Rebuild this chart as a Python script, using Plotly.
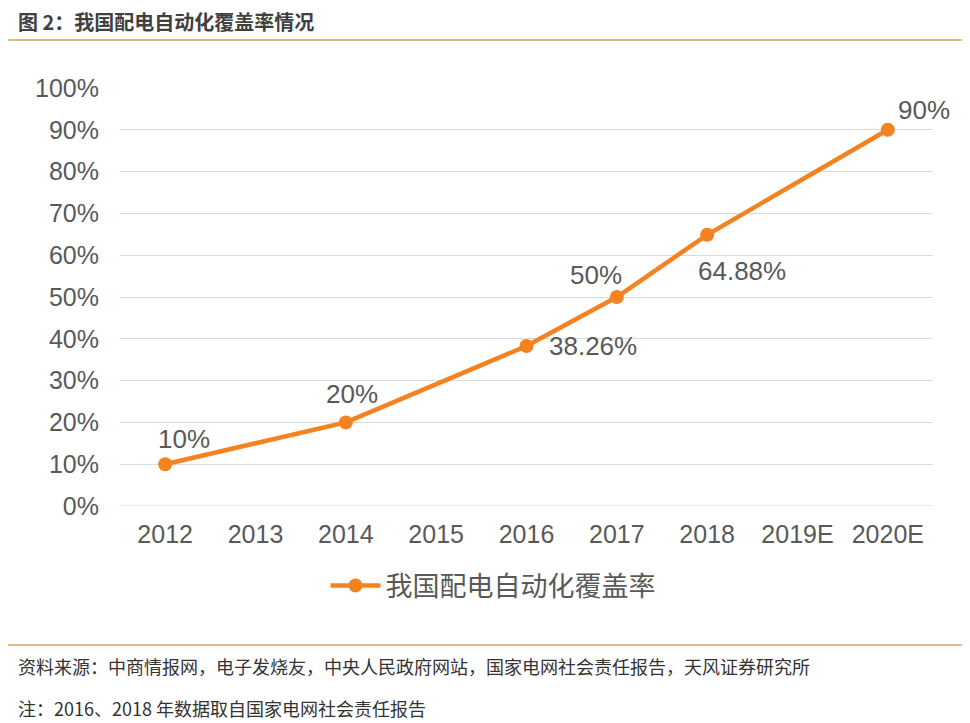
import plotly.graph_objects as go

years = ["2012", "2013", "2014", "2015", "2016", "2017", "2018", "2019E", "2020E"]
coverage = [0.10, None, 0.20, None, 0.3826, 0.50, 0.6488, None, 0.90]
labels = ["10%", None, "20%", None, "38.26%", "50%", "64.88%", None, "90%"]
y_ticks = [0, 0.1, 0.2, 0.3, 0.4, 0.5, 0.6, 0.7, 0.8, 0.9, 1.0]
y_tick_text = ["0%", "10%", "20%", "30%", "40%", "50%", "60%", "70%", "80%", "90%", "100%"]

series_name = "我国配电自动化覆盖率"
title_text = "图 2：我国配电自动化覆盖率情况"
source_text = "资料来源：中商情报网，电子发烧友，中央人民政府网站，国家电网社会责任报告，天风证券研究所"
note_text = "注：2016、2018 年数据取自国家电网社会责任报告"

ORANGE = "#F58220"
GRAY = "#595959"
NUMFONT = "Liberation Sans, Arial, sans-serif"
CJK = "Noto Sans CJK SC, sans-serif"

# page has an 8px body margin; figure coordinates = screen coordinates - 8
OFF = 8
W, H = 970 - OFF, 723 - OFF
L, R, T, B = 120 - OFF, 37, 88 - OFF, 217
PW, PH = W - L - R, H - T - B


def px(xs):
    return (xs - OFF - L) / PW


def py(ys):
    return (H - B - (ys - OFF)) / PH


# label offsets in pixels (style only)
offsets = {0: (19, 25), 2: (6, 28), 4: (66, 0), 5: (-21, 22), 6: (35, -36), 8: (36, 20)}

fig = go.Figure()
fig.add_trace(go.Scatter(
    x=years, y=coverage, mode="lines+markers", name=series_name,
    connectgaps=True,
    line=dict(color=ORANGE, width=4.5),
    marker=dict(color=ORANGE, size=14),
    hoverinfo="skip",
))

annotations = []
for i, (v, lab) in enumerate(zip(coverage, labels)):
    if v is None:
        continue
    dx, dy = offsets.get(i, (0, 25))
    annotations.append(dict(
        x=i, y=v, xref="x", yref="y", text=lab, showarrow=False,
        xshift=dx, yshift=dy, xanchor="center", yanchor="middle",
        font=dict(family=NUMFONT, size=26, color=GRAY),
    ))

annotations += [
    dict(x=px(16), y=py(21), xref="paper", yref="paper", text="<b>" + title_text + "</b>",
         showarrow=False, xanchor="left", yanchor="middle",
         font=dict(family=CJK, size=20, color="#404040")),
    dict(x=px(16), y=py(666), xref="paper", yref="paper", text=source_text,
         showarrow=False, xanchor="left", yanchor="middle",
         font=dict(family=CJK, size=18, color="#333333")),
    dict(x=px(16), y=py(708), xref="paper", yref="paper", text=note_text,
         showarrow=False, xanchor="left", yanchor="middle",
         font=dict(family=CJK, size=18, color="#333333")),
]

shapes = [
    dict(type="line", xref="paper", yref="paper", x0=px(0), x1=px(975),
         y0=py(40), y1=py(40), line=dict(color="#D9A05B", width=1.5)),
    dict(type="line", xref="paper", yref="paper", x0=px(0), x1=px(975),
         y0=py(645), y1=py(645), line=dict(color="#D9A05B", width=1.5)),
    dict(type="line", xref="paper", yref="y", x0=0, x1=1, y0=0, y1=0,
         line=dict(color="#D9D9D9", width=1), layer="below"),
]

fig.update_layout(
    width=W, height=H,
    margin=dict(l=L, r=R, t=T, b=B),
    paper_bgcolor="white", plot_bgcolor="white",
    showlegend=True,
    legend=dict(orientation="h", x=px(493), xanchor="center", y=py(586), yanchor="middle",
                font=dict(family=CJK, size=27, color=GRAY), itemwidth=50),
    xaxis=dict(
        type="category", range=[-0.5, len(years) - 0.5],
        showgrid=False, showline=False, zeroline=False,
        tickfont=dict(family=NUMFONT, size=25, color=GRAY), ticks="",
        ticklabelstandoff=11, fixedrange=True,
    ),
    yaxis=dict(
        range=[0, 1.0], tickvals=y_ticks, ticktext=y_tick_text,
        showgrid=True, gridcolor="#D9D9D9", gridwidth=1,
        zeroline=False, showline=False, ticks="",
        tickfont=dict(family=NUMFONT, size=25, color=GRAY),
        ticklabelstandoff=20, fixedrange=True,
    ),
    annotations=annotations,
    shapes=shapes,
)

fig.write_html("out.html")
